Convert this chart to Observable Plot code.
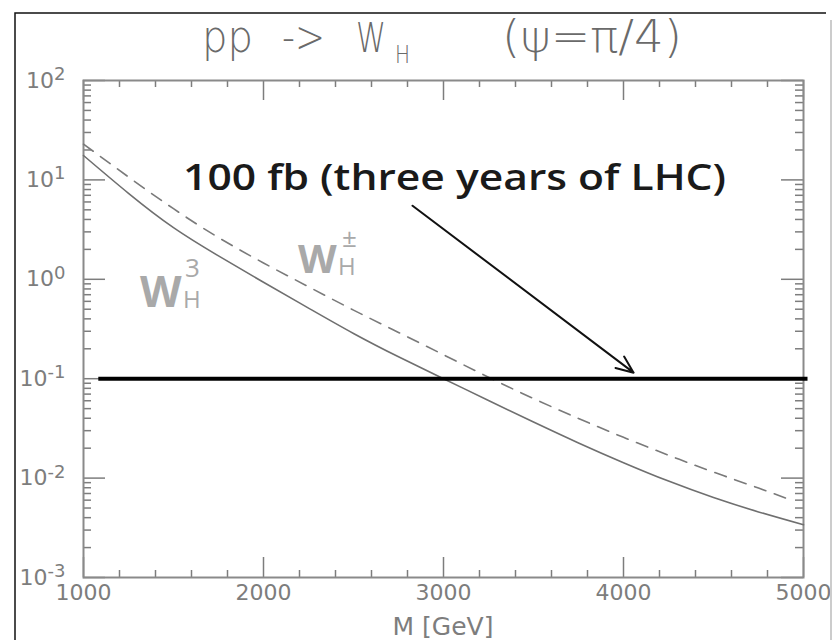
<!DOCTYPE html>
<html>
<head>
<meta charset="utf-8">
<script src="https://cdn.jsdelivr.net/npm/d3@7"></script>
<script src="https://cdn.jsdelivr.net/npm/@observablehq/plot@0.6"></script>
<style>
  html, body { margin: 0; padding: 0; background: #fff; }
  svg { display: block; }
</style>
</head>
<body>
<div id="chart"></div>
<script>
// ---- data ----
const massW3 = [1000, 1250, 1500, 1750, 2000, 2250, 2500, 2750, 3000, 3250, 3500, 3750, 4000, 4250, 4500, 4750, 5000];
const sigmaW3 = [17.6, 7.33, 3.31, 1.72, 0.933, 0.513, 0.285, 0.166, 0.100, 0.0603, 0.0367, 0.0226, 0.0143, 0.00933, 0.00638, 0.00457, 0.00339];
const massWpm = [1000, 1250, 1500, 1750, 2000, 2250, 2500, 2750, 3000, 3250, 3500, 3750, 4000, 4250, 4500, 4750, 4900];
const sigmaWpm = [22.9, 10.7, 5.13, 2.63, 1.46, 0.841, 0.490, 0.292, 0.174, 0.1035, 0.0631, 0.0398, 0.0257, 0.0170, 0.0115, 0.00794, 0.00631];

const xMajor = [1000, 2000, 3000, 4000, 5000];
const xMinor = [1200, 1400, 1600, 1800, 2200, 2400, 2600, 2800, 3200, 3400, 3600, 3800, 4200, 4400, 4600, 4800];
const yMajor = [1e-3, 1e-2, 1e-1, 1e0, 1e1, 1e2];
const yMinorMult = [2, 3, 4, 5, 6, 7, 8, 9];
const yMinor = yMajor.slice(0, -1).flatMap(d => yMinorMult.map(m => m * d));

const luminosityLine = [0.1];          // 100 fb^-1 reach
const luminositySpan = [1085, 5025];   // extent of the black line (GeV)
const arrowData = [{x1: 2828, y1: 5.5, x2: 4056, y2: 0.115}];

const titleText = ["pp", "->", "W", "H", "(\u03C8=\u03C0/4)"];
const noteText = "100 fb (three years of LHC)";
const noteAt = [1556, 7.8];
const labelW3At = [1317, 0.52];
const labelWpmAt = [2194, 1.14];
const xLabel = "M [GeV]";

const w3 = massW3.map((m, i) => ({m, s: sigmaW3[i]}));
const wpm = massWpm.map((m, i) => ({m, s: sigmaWpm[i]}));

const gray = "#7d7d7d";
const W = 835, H = 640;
const mT = 80, mL = 83, mR = 32, mB = 63;
const fw = W - mL - mR, fh = H - mT - mB;

const plot = Plot.plot({
  width: W, height: H,
  marginTop: mT, marginLeft: mL, marginRight: mR, marginBottom: mB,
  style: {background: "#fff", fontFamily: "'DejaVu Sans', sans-serif", overflow: "visible"},
  x: {type: "linear", domain: [1000, 5000]},
  y: {type: "log", domain: [1e-3, 1e2]},
  marks: [
    // tick labels
    Plot.axisX({ticks: xMajor, tickSize: 0, tickPadding: 7, fontSize: 22, color: gray, label: null, tickFormat: d => String(d)}),
    Plot.axisY({ticks: yMajor, tickSize: 0, tickPadding: 18, fontSize: 22, color: gray, label: null, tickFormat: d => "10^" + Math.round(Math.log10(d))}),
    // inward ticks (all four sides)
    Plot.ruleX(xMajor, {x: d => d, insetTop: fh - 20, stroke: gray, strokeWidth: 1.5}),
    Plot.ruleX(xMajor, {x: d => d, insetBottom: fh - 20, stroke: gray, strokeWidth: 1.5}),
    Plot.ruleX(xMinor, {x: d => d, insetTop: fh - 7, stroke: gray, strokeWidth: 1.5}),
    Plot.ruleX(xMinor, {x: d => d, insetBottom: fh - 7, stroke: gray, strokeWidth: 1.5}),
    Plot.ruleY(yMajor, {y: d => d, insetRight: fw - 22, stroke: gray, strokeWidth: 1.5}),
    Plot.ruleY(yMajor, {y: d => d, insetLeft: fw - 22, stroke: gray, strokeWidth: 1.5}),
    Plot.ruleY(yMinor, {y: d => d, insetRight: fw - 8, stroke: gray, strokeWidth: 1.5}),
    Plot.ruleY(yMinor, {y: d => d, insetLeft: fw - 8, stroke: gray, strokeWidth: 1.5}),
    Plot.frame({stroke: "#8a8a8a", strokeWidth: 2}),
    // curves
    Plot.line(w3, {x: "m", y: "s", stroke: "#6f6f6f", strokeWidth: 1.6, curve: "natural"}),
    Plot.line(wpm, {x: "m", y: "s", stroke: "#7a7a7a", strokeWidth: 1.6, strokeDasharray: "12,9", curve: "natural"}),
    // luminosity line
    Plot.ruleY(luminosityLine, {y: d => d, x1: () => luminositySpan[0], x2: () => luminositySpan[1], stroke: "#000", strokeWidth: 4, clip: false}),
    Plot.arrow(arrowData, {x1: "x1", y1: "y1", x2: "x2", y2: "y2", stroke: "#111", strokeWidth: 2, headLength: 14, headAngle: 45})
  ]
});

const svg = d3.select(plot);
const xs = plot.scale("x"), ys = plot.scale("y");

// superscript exponents on y tick labels
svg.selectAll('[aria-label="y-axis tick label"] text').each(function () {
  const t = d3.select(this);
  const [base, exp] = t.text().split("^");
  t.text(base);
  t.append("tspan").attr("dy", "-0.42em").attr("font-size", 18).text(exp.replace("-", "\u2011"));
});

// x axis label
svg.append("text")
  .attr("x", mL + fw / 2).attr("y", 635)
  .attr("text-anchor", "middle")
  .attr("font-family", "'DejaVu Sans', sans-serif")
  .attr("font-size", 25).attr("fill", gray)
  .text(xLabel);

// title
const tg = svg.append("g").attr("text-anchor", "start").attr("font-family", "'DejaVu Sans', sans-serif").attr("font-weight", 200).attr("fill", "#6a6a6a");
const tParts = [
  {t: titleText[0], x: 202, y: 52, s: 44, len: 51},
  {t: titleText[1], x: 282, y: 52, s: 44, len: 43},
  {t: titleText[2], x: 356, y: 52, s: 40, len: 30},
  {t: titleText[3], x: 395, y: 63, s: 24, len: 15},
  {t: titleText[4], x: 502, y: 52, s: 44, len: 180}
];
tParts.forEach(p => {
  tg.append("text").attr("x", p.x).attr("y", p.y).attr("font-size", p.s)
    .attr("textLength", p.len).attr("lengthAdjust", "spacingAndGlyphs").text(p.t);
});

// annotation
svg.append("text")
  .attr("text-anchor", "start")
  .attr("x", xs.apply(noteAt[0])).attr("y", ys.apply(noteAt[1]))
  .attr("font-family", "'Open Sans', sans-serif").attr("font-weight", 600)
  .attr("font-size", 36).attr("fill", "#1a1a1a")
  .attr("textLength", 543).attr("lengthAdjust", "spacingAndGlyphs")
  .text(noteText);

// curve labels
function wLabel(at, wSize, scriptText, hShift, sShift, sDx) {
  const x0 = xs.apply(at[0]), y0 = ys.apply(at[1]);
  const g = svg.append("g").attr("text-anchor", "start").attr("font-family", "'Open Sans', sans-serif").attr("font-weight", 700).attr("fill", "#a9a9a9");
  g.append("text").attr("x", x0).attr("y", y0).attr("font-size", wSize).text("W");
  g.append("text").attr("x", x0 + wSize * 1.0).attr("y", y0 + hShift).attr("font-size", 24).attr("font-weight", 400).text("H");
  g.append("text").attr("x", x0 + sDx).attr("y", y0 + sShift).attr("font-size", 26).attr("font-weight", 400).text(scriptText);
}
wLabel(labelW3At, 43, "3", 1, -30, 45);
wLabel(labelWpmAt, 40, "\u00B1", 2, -26, 44);

// outer slide border
svg.append("path").attr("d", "M15,640V13H826").attr("fill", "none").attr("stroke", "#111").attr("stroke-width", 1.5);
svg.append("path").attr("d", "M831,20V640").attr("fill", "none").attr("stroke", "#ccc").attr("stroke-width", 2);

document.getElementById("chart").appendChild(plot);
</script>
</body>
</html>
